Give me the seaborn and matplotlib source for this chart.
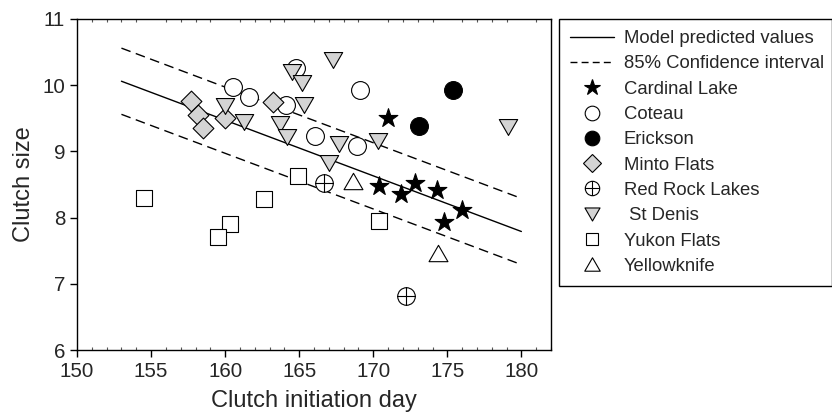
import matplotlib
matplotlib.use("Agg")
import matplotlib.pyplot as plt
import seaborn as sns
import numpy as np
from matplotlib.path import Path
from matplotlib.lines import Line2D

# clutch initiation day (x) and clutch size (y) per site
cardinal_x = [171.0, 170.4, 171.9, 172.8, 174.3, 176.0, 174.8]
cardinal_y = [9.50, 8.48, 8.35, 8.53, 8.42, 8.11, 7.94]
coteau_x = [160.5, 161.6, 164.1, 164.8, 166.1, 169.1, 168.9]
coteau_y = [9.98, 9.82, 9.70, 10.26, 9.24, 9.93, 9.08]
erickson_x = [175.4, 173.1]
erickson_y = [9.93, 9.39]
minto_x = [157.7, 158.2, 158.5, 160.0, 163.2]
minto_y = [9.76, 9.55, 9.35, 9.50, 9.74]
redrock_x = [166.7, 172.2]
redrock_y = [8.52, 6.82]
stdenis_x = [160.0, 161.3, 164.5, 165.2, 165.3, 163.7, 164.2, 167.3, 167.0, 167.7, 170.3, 179.1]
stdenis_y = [9.69, 9.45, 10.20, 10.03, 9.70, 9.41, 9.21, 10.38, 8.82, 9.11, 9.15, 9.37]
yukon_x = [154.5, 162.6, 160.3, 159.5, 164.9, 170.4]
yukon_y = [8.30, 8.28, 7.91, 7.70, 8.63, 7.95]
yellowknife_x = [168.6, 174.4]
yellowknife_y = [8.56, 7.47]

# model line and 85% confidence band
line_x = [153, 180]
pred_y = [10.06, 7.79]
upper_y = [10.56, 8.29]
lower_y = [9.56, 7.29]

# marker shapes
tri_down = Path([(-1, 0.866), (1, 0.866), (0, -0.866), (-1, 0.866)],
                [Path.MOVETO, Path.LINETO, Path.LINETO, Path.CLOSEPOLY])
tri_up = Path([(-1, -0.866), (1, -0.866), (0, 0.866), (-1, -0.866)],
              [Path.MOVETO, Path.LINETO, Path.LINETO, Path.CLOSEPOLY])
cross = Path([(-1, 0), (1, 0), (0, -1), (0, 1)],
             [Path.MOVETO, Path.LINETO, Path.MOVETO, Path.LINETO])
circle_cross = Path.make_compound_path(Path.unit_circle(), cross)

sites = [
    # label, x, y, marker, face, size
    ("Cardinal Lake", cardinal_x, cardinal_y, "*", "black", 200),
    ("Coteau", coteau_x, coteau_y, "o", "white", 165),
    ("Erickson", erickson_x, erickson_y, "o", "black", 165),
    ("Minto Flats", minto_x, minto_y, "D", "#d4d4d4", 112),
    ("Red Rock Lakes", redrock_x, redrock_y, circle_cross, "white", 160),
    (" St Denis", stdenis_x, stdenis_y, tri_down, "#d4d4d4", 175),
    ("Yukon Flats", yukon_x, yukon_y, "s", "white", 130),
    ("Yellowknife", yellowknife_x, yellowknife_y, tri_up, "white", 185),
]

sns.set_style("ticks")
plt.rcParams["font.family"] = ["Liberation Sans", "DejaVu Sans"]

fig = plt.figure(figsize=(8.32, 4.16), dpi=100)
ax = fig.add_axes([77 / 832, 66 / 416, 474 / 832, 331 / 416])

sns.lineplot(x=line_x, y=pred_y, color="black", lw=1, ax=ax)
sns.lineplot(x=line_x, y=upper_y, color="black", lw=1, ax=ax)
sns.lineplot(x=line_x, y=lower_y, color="black", lw=1, ax=ax)
ax.lines[1].set_dashes((7, 4))
ax.lines[2].set_dashes((7, 4))

for label, xs, ys, m, face, s in sites:
    sns.scatterplot(x=xs, y=ys, marker=m, s=s, color=face, edgecolor="black",
                    linewidth=0.8, ax=ax, legend=False, zorder=3)

ax.set_xlim(150, 182)
ax.set_ylim(6, 11)
ax.set_xticks(np.arange(150, 181, 5))
ax.set_xticks(np.arange(150, 183, 1), minor=True)
ax.set_yticks(np.arange(6, 12, 1))
ax.tick_params(axis="both", which="major", labelsize=14.8, length=5, width=1,
               color="black", direction="out", pad=3.5)
ax.tick_params(axis="x", which="minor", top=True, bottom=True, direction="in",
               length=2.5, width=0.8, color="#555555")
ax.tick_params(axis="x", which="major", top=False)
for sp in ax.spines.values():
    sp.set_visible(True)
    sp.set_color("black")
    sp.set_linewidth(1)

ax.set_xlabel("Clutch initiation day", fontsize=17, labelpad=6.5)
ax.set_ylabel("Clutch size", fontsize=17, labelpad=5)

handles = [
    Line2D([], [], color="black", lw=1, label="Model predicted values"),
    Line2D([], [], color="black", lw=1, dashes=(5, 3), label="85% Confidence interval"),
]
for label, xs, ys, m, face, s in sites:
    handles.append(Line2D([], [], ls="none", marker=m, markersize=np.sqrt(s) * 0.82,
                          markerfacecolor=face, markeredgecolor="black",
                          markeredgewidth=0.8, label=label))

leg = fig.legend(handles=handles, loc="upper left",
                 bbox_to_anchor=(559 / 832, 0.3, 273 / 832, (416 - 19) / 416 - 0.3),
                 mode="expand", fontsize=13.3, frameon=True, fancybox=False,
                 edgecolor="black", framealpha=1, borderaxespad=0,
                 borderpad=0.6, labelspacing=0.45, handlelength=2.4,
                 handletextpad=0.5)
leg.get_frame().set_linewidth(1)

fig.savefig("out.png", dpi=100)
